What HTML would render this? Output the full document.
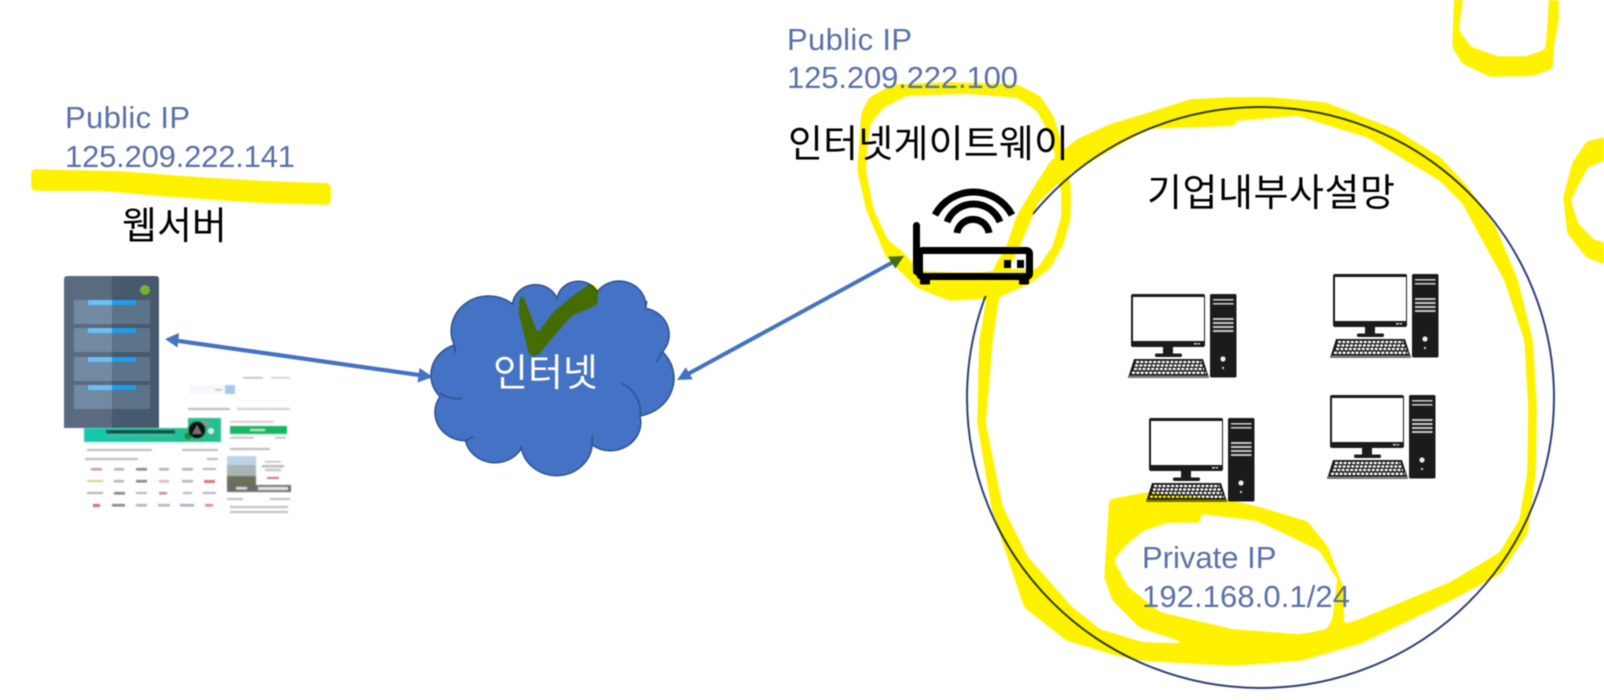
<!DOCTYPE html>
<html lang="ko">
<head>
<meta charset="utf-8">
<title>Network diagram</title>
<style>
html,body{margin:0;padding:0;background:#fff;width:1604px;height:700px;overflow:hidden}
svg{display:block;filter:blur(.4px)}
.ip{font-family:"Liberation Sans","Noto Sans CJK KR",sans-serif;font-size:31px;fill:#5a70a9}
.ko{font-family:"Liberation Sans","Noto Sans CJK KR",sans-serif;font-size:38px;fill:#000}
</style>
</head>
<body>
<svg width="1604" height="700" viewBox="0 0 1604 700" xmlns="http://www.w3.org/2000/svg" style="isolation:isolate;background:#fff">
<defs>
  <linearGradient id="ban" x1="0" x2="1" y1="0" y2="0"><stop offset="0" stop-color="#12c9ae"/><stop offset="1" stop-color="#25bd85"/></linearGradient>
  <filter id="bl" x="-5%" y="-5%" width="110%" height="110%"><feGaussianBlur stdDeviation="0.6"/></filter>
  <filter id="goo" filterUnits="userSpaceOnUse" x="0" y="0" width="1604" height="700" color-interpolation-filters="sRGB">
    <feGaussianBlur stdDeviation="2"/>
    <feColorMatrix type="matrix" values="1 0 0 0 0  0 1 0 0 0  0 0 1 0 0  0 0 0 7 -2"/>
  </filter>
  <g id="pc">
    <rect x="1149" y="418" width="74" height="53" rx="2" fill="#1b1b1d"/>
    <rect x="1151" y="421" width="71" height="44" fill="#fff"/>
    <rect x="1212" y="467" width="3" height="1.5" fill="#ddd"/>
    <rect x="1216" y="467" width="2" height="1.5" fill="#ddd"/>
    <rect x="1181" y="471" width="10" height="7" fill="#1b1b1d"/>
    <rect x="1173" y="477.500" width="27" height="3.500" rx="1.500" fill="#1b1b1d"/>
    <polygon points="1152,483 1221,483 1227,502 1146,502" fill="#1b1b1d"/>
    <rect x="1146" y="499.500" width="81" height="2.500" fill="#777"/>
    <g stroke="#fff" stroke-width="2.300" stroke-dasharray="3 1.300" fill="none">
      <line x1="1154" y1="486" x2="1219.500" y2="486"/>
      <line x1="1153" y1="489.500" x2="1221" y2="489.500"/>
      <line x1="1152" y1="493" x2="1222" y2="493"/>
      <line x1="1150" y1="496.800" x2="1224" y2="496.800"/>
    </g>
    <rect x="1228" y="418" width="26.500" height="83.500" rx="1.500" fill="#1b1b1d"/>
    <g fill="#c9c9c9">
      <rect x="1231" y="423" width="20.500" height="1.600"/>
      <rect x="1231" y="427" width="20.500" height="1.600"/>
      <rect x="1231" y="442" width="20.500" height="2"/>
      <rect x="1231" y="446" width="20.500" height="2"/>
      <rect x="1231" y="450" width="20.500" height="2"/>
      <rect x="1231" y="454" width="20.500" height="2"/>
    </g>
    <circle cx="1241" cy="483" r="2.600" fill="#eee"/>
    <circle cx="1241" cy="492" r="1.100" fill="#ddd"/>
  </g>
</defs>

<!-- Server -->
<rect x="64" y="276" width="95" height="152" rx="3" fill="#5a6b80"/>
<path d="M112 276H156a3 3 0 0 1 3 3V428H112Z" fill="#47596d"/>
<rect x="64" y="424" width="95" height="4" fill="#5a6b80"/>
<rect x="112" y="424" width="47" height="4" fill="#47596d"/>
<g>
  <rect x="74" y="300" width="38" height="24" fill="#748aa3"/><rect x="112" y="300" width="38" height="24" fill="#5d7389"/>
  <rect x="74" y="328" width="38" height="24" fill="#748aa3"/><rect x="112" y="328" width="38" height="24" fill="#5d7389"/>
  <rect x="74" y="357" width="38" height="24" fill="#748aa3"/><rect x="112" y="357" width="38" height="24" fill="#5d7389"/>
  <rect x="74" y="385" width="38" height="24" fill="#748aa3"/><rect x="112" y="385" width="38" height="24" fill="#5d7389"/>
  <rect x="88" y="300" width="24" height="5" fill="#6cc0f5"/><rect x="112" y="300" width="24" height="5" fill="#1f9cec"/>
  <rect x="88" y="328" width="24" height="5" fill="#6cc0f5"/><rect x="112" y="328" width="24" height="5" fill="#1f9cec"/>
  <rect x="88" y="357" width="24" height="5" fill="#6cc0f5"/><rect x="112" y="357" width="24" height="5" fill="#1f9cec"/>
  <rect x="88" y="385" width="24" height="5" fill="#6cc0f5"/><rect x="112" y="385" width="24" height="5" fill="#1f9cec"/>
</g>
<circle cx="145" cy="290" r="5" fill="#74b32e"/>

<!-- Mini website thumbnail -->
<g filter="url(#bl)">
  <g fill="#a8a8a8" opacity=".8">
    <rect x="243" y="377" width="20" height="1.600"/><rect x="271" y="377" width="19" height="1.600" fill="#c4c4c4"/>
    <rect x="189" y="385" width="36" height="9" fill="#f6f7fa"/>
    <rect x="215" y="389" width="7" height="1.500"/>
    <rect x="188" y="408" width="42" height="2"/>
    <rect x="237" y="408" width="53" height="1.800" fill="#bbb"/>
    <rect x="230" y="421" width="44" height="1.500" fill="#d6a5b4"/>
    <rect x="230" y="437" width="24" height="1.600"/>
    <rect x="275" y="437" width="11" height="1.600"/>
    <rect x="230" y="448" width="40" height="2"/>
    <rect x="87" y="449" width="65" height="2"/>
    <rect x="182" y="449" width="36" height="2"/>
    <rect x="85" y="458" width="53" height="2"/>
    <rect x="207" y="458" width="11" height="2"/>
  </g>
  <rect x="225" y="385" width="10" height="9" fill="#a8c6f0"/>
  <rect x="84" y="428" width="137" height="14" fill="url(#ban)"/>
  <rect x="188" y="418" width="33" height="24" fill="#27bd8f"/>
  <rect x="106" y="430" width="69" height="3.500" fill="#0e4b40"/>
  <rect x="108" y="435" width="65" height="1.500" fill="#5cae9c"/>
  <circle cx="188" cy="436" r="3.500" fill="#1d8a3c"/>
  <circle cx="211" cy="431" r="3" fill="#d6efe8"/>
  <circle cx="197" cy="430" r="8.500" fill="#111"/>
  <polygon points="197,425 202,434 192,434" fill="#6f7276"/>
  <rect x="203" y="422" width="5" height="2" fill="#ef3d8a"/>
  <rect x="230" y="426" width="57" height="8" fill="#15b563"/>
  <rect x="250" y="429" width="15" height="2" fill="#bfe8cf"/>
  <g fill="#999" opacity=".75">
    <rect x="91" y="468" width="11" height="2.500" fill="#b77"/><rect x="114" y="468" width="10" height="2.500"/><rect x="136" y="468" width="11" height="2.500" fill="#555"/><rect x="159" y="468" width="10" height="2.500"/><rect x="182" y="468" width="11" height="2.500"/><rect x="203" y="468" width="13" height="2"/>
    <rect x="87" y="480" width="16" height="2" fill="#cbbd5c"/><rect x="114" y="480" width="10" height="2.500"/><rect x="136" y="480" width="11" height="2.500" fill="#555"/><rect x="159" y="480" width="10" height="2.500" fill="#d99"/><rect x="182" y="480" width="11" height="2.500"/><rect x="204" y="480" width="11" height="3" fill="#c44"/>
    <rect x="87" y="492" width="16" height="2"/><rect x="114" y="492" width="11" height="2.500" fill="#555"/><rect x="136" y="492" width="11" height="2"/><rect x="159" y="492" width="8" height="2.500" fill="#a66"/><rect x="183" y="492" width="9" height="2"/><rect x="203" y="492" width="13" height="2"/>
    <rect x="93" y="504" width="7" height="3" fill="#c33"/><rect x="112" y="504" width="13" height="2.500" fill="#555"/><rect x="136" y="504" width="11" height="2.500"/><rect x="158" y="504" width="12" height="2.500"/><rect x="180" y="504" width="14" height="2.500" fill="#7a90b0"/><rect x="205" y="504" width="8" height="2.500" fill="#e49"/>
  </g>
  <rect x="227" y="456" width="29" height="29" fill="#a8b3b4"/>
  <rect x="227" y="456" width="29" height="9" fill="#bfd2e6"/>
  <rect x="227" y="476" width="29" height="9" fill="#6c7058"/>
  <rect x="227" y="485" width="64" height="7" fill="#6a6a6a"/>
  <rect x="236" y="487" width="11" height="2.500" fill="#ddd"/>
  <rect x="258" y="487" width="30" height="3" fill="#e6e6e6"/>
  <g fill="#aaa" opacity=".8">
    <rect x="265" y="461" width="16" height="1.500"/>
    <rect x="262" y="465" width="22" height="2.500"/>
    <rect x="265" y="469" width="16" height="2"/>
    <rect x="267" y="477" width="12" height="2" fill="#a55"/>
    <rect x="227" y="498" width="16" height="2"/><rect x="270" y="498" width="20" height="2"/>
    <rect x="230" y="506" width="58" height="2"/>
    <rect x="230" y="511" width="58" height="2"/>
  </g>
</g>

<!-- Connectors -->
<g fill="#4472c4">
  <line x1="175" y1="340.400" x2="423" y2="375.600" stroke="#4472c4" stroke-width="4.200"/>
  <polygon points="165,339 179,333 177.500,347.500"/>
  <polygon points="433,377 419.500,368 417.500,382.500"/>
  <line x1="686" y1="375" x2="895" y2="261" stroke="#4472c4" stroke-width="4"/>
  <polygon points="677,380 685.800,367.200 692.800,379.400"/>
  <polygon points="904,256 888.200,256.600 895.200,268.800"/>
</g>

<!-- Cloud -->
<g transform="translate(400 200) scale(.35714 .33333)">
  <path d="M152,435 A105,105 0 0 1 315,312 A65,65 0 0 1 440,295 A60,60 0 0 1 552,275 A75,75 0 0 1 688,325 A80,80 0 0 1 735,455 A115,115 0 0 1 672,648 A85,85 0 0 1 538,735 A100,100 0 0 1 340,745 A85,85 0 0 1 183,722 A85,85 0 0 1 112,590 A95,95 0 0 1 152,435 Z" fill="#4472c4" stroke="#2f528f" stroke-width="1.500" vector-effect="non-scaling-stroke"/>
  <path d="M172,595 A70,70 0 0 1 112,578 M620,550 A95,95 0 0 1 672,648 M735,455 L718,485 M205,710 L183,722 M538,735 L538,706 M340,745 L337,738 M688,325 L691,303 M152,435 L155,458" fill="none" stroke="#2f528f" stroke-width="1.500" vector-effect="non-scaling-stroke"/>
</g>

<!-- Private network circle -->
<ellipse cx="1260.500" cy="397.500" rx="293.500" ry="290.500" fill="none" stroke="#2f3f78" stroke-width="2"/>
<rect x="905" y="212" width="128" height="84" fill="#fff"/>

<!-- Computers -->
<use href="#pc"/>
<use href="#pc" transform="translate(181 -23)"/>
<use href="#pc" transform="translate(-18 -124)"/>
<use href="#pc" transform="translate(184 -144)"/>

<!-- Highlighter (multiply) -->
<g style="mix-blend-mode:multiply" filter="url(#goo)" fill="#fff200">
  <polygon points="32,170 120,172 200,178 270,182 330,184 330,204 260,202 170,196 100,190 32,190"/>
  <polygon points="520.700,291.700 537.500,335 553.600,313 571.400,298 591,284 597,288 597,304 571.400,315 553.600,335 537.500,355 530,355 519.600,313"/>
  <!-- gateway loop -->
  <path fill-rule="evenodd" d="M858,170 L862,113 870,98 893,85 950,83 1017,85 1040,97 1053,117 1063,150 1070,187 1070,217 1063,243 1050,267 1030,283 997,297 950,300 917,287 887,257 867,210 Z
     M865,170 L873,210 887,240 903,253 915,267 923,272 950,273 983,273 1003,270 1037,270 1053,247 1062,217 1062,193 1057,160 1050,133 1037,110 1017,97 967,93 907,95 883,107 870,123 867,143 Z"/>
  <!-- big loop -->
  <path fill-rule="evenodd" d="M980,340 L987,300 996,265 1007,247 1017,217 1033,190 1050,163 1077,140 1110,125 1150,113 1190,100 1230,98 1271,98 1325,103 1395,130 1440,158 1467,187 1495,227 1517,280 1532,340 1536,407 1535,473 1527,533 1500,573 1450,600 1360,643 1300,660 1233,665 1143,660 1117,655 1067,640 1025,607 1008,557 992,507 978,423 Z
     M992,340 L985,423 1002,507 1027,557 1071,607 1100,630 1143,643 1210,645 1327,640 1343,625 1360,620 1450,583 1500,553 1520,520 1528,473 1529,407 1525,340 1505,280 1483,240 1463,203 1440,180 1368,137 1298,115 1236,120 1234,125 1150,128 1126,140 1097,157 1063,177 1037,203 1023,237 1010,265 998,300 Z"/>
  <!-- private IP loop -->
  <path fill-rule="evenodd" d="M1110,500 L1147,493 1227,500 1260,508 1307,522 1327,547 1343,587 1343,645 1210,650 1140,627 1113,600 1105,577 Z
     M1200,513 L1200,522 1167,522 1143,530 1125,545 1113,560 1127,587 1160,613 1233,630 1300,635 1327,630 1333,620 1338,580 1320,550 1285,533 1283,548 1285,533 1257,520 Z"/>
  <!-- top right loop -->
  <path fill-rule="evenodd" d="M1455,-6 L1453,47 1463,63 1490,76 1533,75 1552,68 1553,47 1558,20 1558,-6 Z M1463,-6 L1458,30 1470,47 1497,57 1527,57 1546,50 1548,27 1550,-6 Z"/>
  <!-- right loop -->
  <path fill-rule="evenodd" d="M1610,137 L1587,142 1573,163 1564,197 1568,233 1587,257 1610,265 Z M1610,157 L1587,167 1570,200 1577,223 1593,240 1610,245 Z"/>
</g>

<!-- Router -->
<g>
  <g fill="none" stroke="#000" stroke-width="7">
    <path d="M935,215 A43.700,43.700 0 0 1 1012,215"/>
    <path d="M947,222 A28.500,28.500 0 0 1 1000,222"/>
    <path d="M957,233 A16.200,16.200 0 0 1 989,233"/>
  </g>
  <rect x="913" y="222" width="7" height="53" rx="3.500" fill="#000"/>
  <rect x="919.500" y="250.500" width="110" height="26" rx="3" fill="none" stroke="#000" stroke-width="7"/>
  <rect x="920" y="276" width="10" height="8.500" rx="1" fill="#000"/>
  <rect x="1019" y="276" width="10" height="8.500" rx="1" fill="#000"/>
  <rect x="1004" y="260" width="7" height="8" fill="#000"/>
  <rect x="1017" y="260" width="7" height="8" fill="#000"/>
</g>

<!-- Labels -->
<text class="ip" x="65" y="128" textLength="125">Public IP</text>
<text class="ip" x="65" y="167" textLength="230">125.209.222.141</text>
<text class="ip" x="787" y="50" textLength="125">Public IP</text>
<text class="ip" x="787" y="88" textLength="231">125.209.222.100</text>
<text class="ip" x="1142" y="568">Private IP</text>
<text class="ip" x="1142" y="607" textLength="208">192.168.0.1/24</text>
<text class="ko" x="122" y="239">웹서버</text>
<text class="ko" x="493" y="386" style="fill:#fff">인터넷</text>
<text class="ko" x="788" y="157" textLength="281">인터넷게이트웨이</text>
<text class="ko" x="1147" y="206" textLength="248">기업내부사설망</text>
</svg>
</body>
</html>
